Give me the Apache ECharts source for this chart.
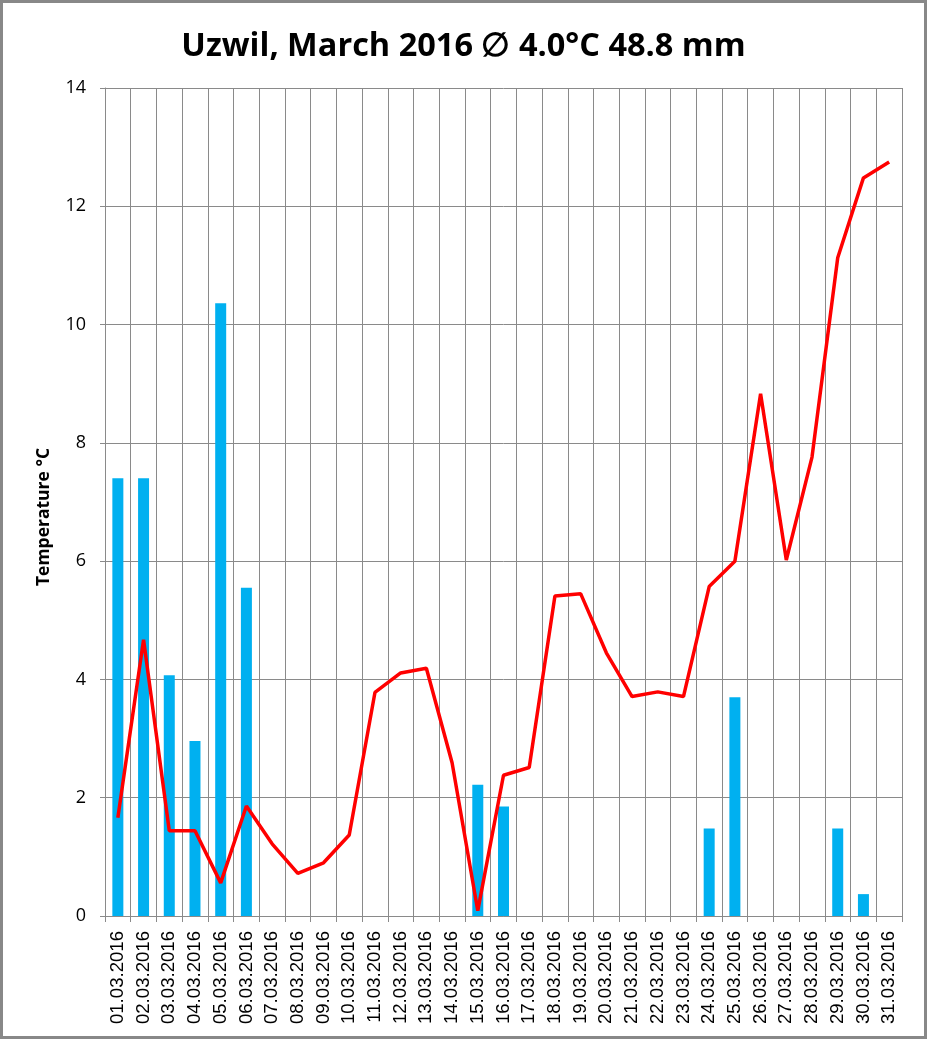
<!DOCTYPE html>
<html>
<head>
<meta charset="utf-8">
<script src="https://cdn.jsdelivr.net/npm/echarts@6/dist/echarts.min.js"></script>
<style>
html,body{margin:0;padding:0;background:#fff;}
#c{width:927px;height:1039px;}
</style>
</head>
<body>
<div id="c"></div>
<script>
const days = ["01.03.2016","02.03.2016","03.03.2016","04.03.2016","05.03.2016","06.03.2016","07.03.2016","08.03.2016","09.03.2016","10.03.2016","11.03.2016","12.03.2016","13.03.2016","14.03.2016","15.03.2016","16.03.2016","17.03.2016","18.03.2016","19.03.2016","20.03.2016","21.03.2016","22.03.2016","23.03.2016","24.03.2016","25.03.2016","26.03.2016","27.03.2016","28.03.2016","29.03.2016","30.03.2016","31.03.2016"];
const precipitation = [7.4,7.4,4.07,2.96,10.36,5.55,0,0,0,0,0,0,0,0,2.22,1.85,0,0,0,0,0,0,0,1.48,3.7,0,0,0,1.48,0.37,0];
const temperature = [1.66,4.67,1.44,1.44,0.56,1.86,1.22,0.72,0.90,1.37,3.78,4.11,4.19,2.59,0.09,2.38,2.51,5.41,5.45,4.45,3.71,3.79,3.71,5.57,6.0,8.83,6.02,7.76,11.13,12.48,12.75];
const titleText = "Uzwil, March 2016 \u2205 4.0°C 48.8 mm";
const yName = "Temperature °C";

const chart = echarts.init(document.getElementById('c'), null, {renderer:'canvas'});
const gridColor = '#8a8a8a';
chart.setOption({
  animation:false,
  backgroundColor:'#fff',
  title:{
    text:titleText, left:'center', top:25,
    textStyle:{fontFamily:'Open Sans', fontWeight:'bold', fontSize:32.5, color:'#000'}
  },
  graphic:[
    {type:'rect', shape:{x:1.5,y:1.5,width:924,height:1036}, style:{fill:'none', stroke:'#888', lineWidth:3}, z:100},
    {type:'text', x:44, y:517, rotation:Math.PI/2, style:{text:yName, fontFamily:'Open Sans', fontWeight:'bold', fontSize:17.5, fill:'#000', align:'center', verticalAlign:'middle'}}
  ],
  grid:{left:105, right:25, top:88, bottom:123, containLabel:false},
  xAxis:{
    type:'category', data:days, boundaryGap:true,
    axisLine:{show:true, lineStyle:{color:gridColor, width:1}},
    axisTick:{show:true, length:6, alignWithLabel:false, lineStyle:{color:gridColor}},
    splitLine:{show:true, lineStyle:{color:gridColor, width:1}},
    axisLabel:{rotate:90, interval:0, margin:15, fontFamily:'Liberation Sans', fontSize:18.6, color:'#000'}
  },
  yAxis:{
    type:'value', min:0, max:14, interval:2,
    axisLine:{show:true, lineStyle:{color:gridColor, width:1}},
    axisTick:{show:true, length:5, lineStyle:{color:gridColor}},
    splitLine:{show:true, lineStyle:{color:gridColor, width:1}},
    axisLabel:{margin:19, fontFamily:'Open Sans', fontSize:18, color:'#000'}
  },
  series:[
    {type:'bar', data:precipitation, barWidth:11, itemStyle:{color:'#00B0F0'}, z:2},
    {type:'line', data:temperature, symbol:'none', lineStyle:{color:'#FF0000', width:3.5}, itemStyle:{color:'#FF0000'}, z:3}
  ]
});
</script>
</body>
</html>
